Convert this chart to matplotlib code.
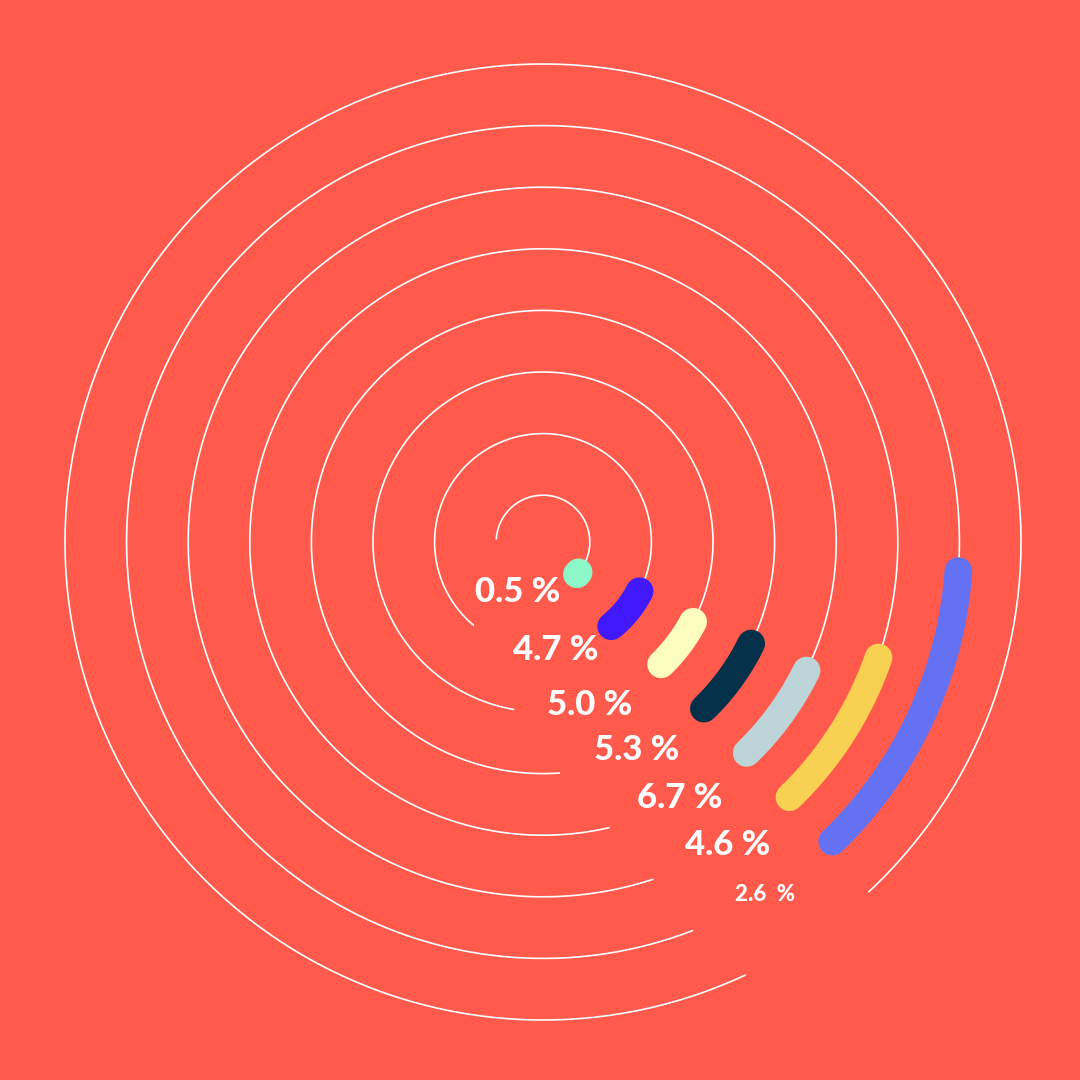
import numpy as np
import matplotlib
matplotlib.use("Agg")
import matplotlib.pyplot as plt

BG = "#FF5A4B"

# rings, inner to outer; angles are compass degrees (clockwise from top)
RINGS = [1, 2, 3, 4, 5, 6, 7, 8]
TRACK_START = [274, 220, 190, 176, 167, 162, 159, 155]
TRACK_END = [114, 117, 118, 116, 116, 109, 94, 137]

# coloured arcs (ring 8 has none)
BAR_START = [130.5, 117, 118, 116, 116, 109, 94]
BAR_END = [133.5, 141, 136, 136, 136, 136, 136]
BAR_COLORS = ["#8DF7C8", "#4219FA", "#FEFDC0", "#04304A",
              "#BDD5D8", "#F8D152", "#6471F3"]

LABELS = ["0.5 %", "4.7 %", "5.0 %", "5.3 %", "6.7 %", "4.6 %", "2.6  %"]

# label placement (compass angle, ring units) and sizes
LABEL_THETA = [206.6, 173.5, 164, 155.7, 152, 148.6, 147.8]
LABEL_R = [1.15, 2.0, 3.0, 3.95, 4.95, 6.0, 7.0]
LABEL_SIZE = [25, 25, 25, 25, 25, 25, 16]

R_MIN = 0.24   # ring 1 sits 0.76 ring-steps from the centre
R_MAX = 8.5


def arc(a0, a1, n=400):
    if a1 < a0:
        a1 += 360
    return np.deg2rad(np.linspace(a0, a1, n))


fig = plt.figure(figsize=(10.8, 10.8), dpi=100, facecolor=BG)
# 61.6 px per ring step
rad_px = 61.6 * (R_MAX - R_MIN)
cx, cy = 543, 542
ax = fig.add_axes([(cx - rad_px) / 1080, (1080 - cy - rad_px) / 1080,
                   2 * rad_px / 1080, 2 * rad_px / 1080], projection="polar")
ax.set_theta_zero_location("N")
ax.set_theta_direction(-1)
ax.set_ylim(R_MIN, R_MAX)
ax.axis("off")

for r, a0, a1 in zip(RINGS, TRACK_START, TRACK_END):
    th = arc(a0, a1)
    ax.plot(th, np.full_like(th, r), color="white", lw=1.2, zorder=1)

for r, a0, a1, c in zip(RINGS, BAR_START, BAR_END, BAR_COLORS):
    th = arc(a0, a1, 100)
    ax.plot(th, np.full_like(th, r), color=c, lw=20,
            solid_capstyle="round", zorder=2)

for txt, t, r, s in zip(LABELS, LABEL_THETA, LABEL_R, LABEL_SIZE):
    ax.text(np.deg2rad(t), r, txt, color="white", fontsize=s,
            fontfamily="Lato", fontweight="black", ha="center", va="center",
            zorder=3)

fig.savefig("out.png", dpi=100, facecolor=BG)
